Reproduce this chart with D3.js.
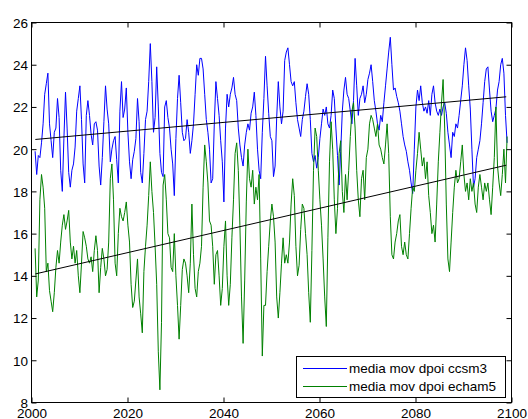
<!DOCTYPE html>
<html><head><meta charset="utf-8">
<script src="https://cdn.jsdelivr.net/npm/d3@7"></script>
<style>html,body{margin:0;padding:0;background:#fff;}svg{display:block;}</style>
</head><body>
<svg id="chart" width="528" height="419"></svg>
<script>
// time sampling of the moving averages (years), one value every 1/3 year
const startYear = 2000.75;
const stepYear = 1 / 3;

const ccsm3 = [
19.9,
18.8,19.7,19.6, 20.3,21.2,22.6, 23.1,23.6,21.2, 20.4,19.6,20.8, 21.0,22.4,21.5,
19.0,18.0,20.5, 22.7,21.0,18.9, 18.2,19.0,19.3, 20.1,21.8,22.4, 23.0,21.4,19.3,
18.4,21.6,22.3, 21.6,20.7,20.2, 21.2,21.3,20.9, 19.2,18.3,19.6, 21.3,23.0,21.9,
21.2,19.4,20.0, 20.4,20.6,19.5, 18.4,21.8,23.2, 21.5,21.9,22.9, 20.8,19.4,18.6,
19.5,19.9,20.5, 22.4,21.3,18.9, 18.4,19.8,21.4, 21.8,23.2,25.0, 23.2,20.8,21.5,
23.9,22.0,19.8, 18.9,18.7,22.0, 22.3,21.5,21.0, 20.0,19.3,17.8, 20.5,22.4,23.5,
22.2,20.8,20.4, 20.5,21.4,20.8, 19.8,20.4,21.2, 22.6,24.0,23.5, 24.3,24.3,23.8,
22.6,21.4,20.8, 20.0,18.4,18.6, 21.2,23.2,22.4, 21.6,20.4,19.4, 17.5,21.0,22.6,
22.0,22.6,22.9, 23.4,22.6,22.3, 21.0,20.2,19.6, 19.2,20.2,20.8, 21.2,20.9,21.7,
22.0,22.7,21.6, 20.0,19.0,18.6, 20.8,22.4,24.4, 23.0,21.7,20.6, 20.4,18.7,19.2,
21.5,23.2,22.0, 21.2,21.8,24.2, 24.6,24.8,24.0, 23.2,23.0,23.2, 22.2,21.4,21.0,
20.6,21.4,21.8, 22.5,23.1,22.6, 21.4,19.8,19.4, 19.7,19.1,19.6, 20.5,21.2,21.9,
21.6,22.0,21.2, 21.0,21.6,22.8, 22.4,21.0,19.7, 18.3,19.9,21.8, 22.8,23.4,22.6,
22.4,21.8,21.2, 22.3,24.3,23.0, 21.6,22.4,22.6, 23.0,22.2,22.6, 23.3,23.6,24.0,
23.2,22.3,21.8, 21.2,20.9,21.6, 21.3,22.2,23.0, 23.8,24.6,25.3, 24.0,22.8,22.9,
22.5,22.2,21.8, 21.2,20.6,20.2, 19.9,19.4,19.0, 18.4,17.9,20.0, 22.0,22.8,22.3,
23.0,22.2,21.8, 22.0,21.7,22.3, 21.6,22.6,23.0, 22.2,21.8,21.6, 21.9,21.6,22.0,
22.2,21.7,20.8, 20.2,19.6,20.8, 20.6,21.2,21.0, 21.6,22.3,23.0, 24.0,24.8,24.2,
23.0,21.9,20.0, 18.2,18.6,19.6, 20.0,20.4,21.2, 22.2,23.2,23.8, 23.9,22.8,21.8,
21.3,21.6,21.9, 22.8,23.2,24.0, 24.3,23.6,21.6,
20.3
];

const echam5 = [
15.3,
13.0,13.8,17.6, 18.8,18.2,17.2, 14.2,14.6,13.3, 12.8,12.3,13.2, 14.4,15.2,14.6,
15.6,16.4,16.9, 16.2,16.6,17.1, 15.6,14.8,15.4, 14.6,15.2,14.0, 13.2,14.6,16.1,
15.8,15.4,14.8, 14.6,14.9,14.2, 15.2,15.9,15.2, 13.2,14.4,15.3, 14.8,14.0,14.3,
15.6,18.6,19.3, 17.6,14.6,14.0, 16.0,17.2,16.8, 16.6,17.0,17.5, 16.4,15.6,13.6,
12.5,12.8,13.8, 14.8,13.0,12.2, 11.3,14.2,15.4, 16.4,17.8,19.4, 18.0,17.0,15.4,
13.6,10.4,8.6, 11.8,18.3,18.8, 17.6,16.0,15.8, 14.4,14.2,16.0, 14.0,12.6,11.0,
12.6,14.3,14.8, 14.6,14.0,13.2, 14.6,17.4,15.0, 13.4,13.0,14.2, 14.6,15.4,18.2,
20.2,19.4,18.4, 16.6,16.4,15.4, 13.6,15.0,15.2, 14.0,12.6,13.4, 15.4,16.6,14.0,
12.6,13.6,15.8, 17.6,19.8,20.3, 19.0,16.4,13.0, 10.8,13.8,17.5, 20.0,18.6,18.2,
19.0,17.4,18.2, 17.6,18.8,14.8, 10.2,12.6,12.6, 14.2,15.4,16.6, 17.4,16.8,15.6,
13.0,12.0,13.2, 14.6,15.8,14.6, 15.0,14.6,15.6, 17.4,18.6,17.8, 15.4,14.0,14.5,
16.2,17.4,17.2, 16.0,15.0,13.2, 11.8,15.2,19.0, 21.0,20.6,19.0, 17.6,16.4,14.8,
13.0,11.6,15.8, 19.4,21.3,20.0, 17.6,16.0,17.2, 19.8,20.4,18.0, 17.0,18.8,17.6,
19.0,20.6,21.8, 22.2,21.0,19.0, 17.6,16.8,18.6, 19.0,17.6,19.6, 20.0,21.2,21.6,
21.4,21.0,20.6, 21.2,20.2,20.0, 19.6,19.3,20.2, 21.2,19.8,16.8, 15.0,14.8,15.6,
16.0,16.6,16.9, 15.4,15.0,15.6, 15.0,14.8,16.0, 17.2,18.2,18.0, 19.0,19.8,20.8,
20.0,19.2,19.6, 18.6,19.4,17.8, 17.0,16.0,16.4, 15.6,17.4,19.4, 20.8,22.2,23.3,
21.0,17.4,14.8, 14.2,15.6,17.0, 18.2,19.0,18.4, 18.6,19.4,20.2, 18.8,18.0,18.4,
17.6,18.6,18.0, 18.4,17.4,17.0, 18.2,18.8,18.2, 17.6,18.4,18.0, 18.4,17.6,16.9,
18.2,19.6,22.0, 19.2,18.4,17.8, 18.8,20.0,18.4,
20.6
];

// linear trend lines (endpoints)
const trendCcsm3 = [[2000.8, 20.46], [2098.9, 22.48]];
const trendEcham5 = [[2000.8, 14.09], [2098.9, 19.24]];

const xTicks = [2000, 2020, 2040, 2060, 2080, 2100];
const yTicks = [8, 10, 12, 14, 16, 18, 20, 22, 24, 26];
const legendLabels = ["media mov dpoi ccsm3", "media mov dpoi echam5"];
const seriesColors = ["#0000ff", "#008000"];

const svg = d3.select("#chart");
const L = 31.5, R = 511.5, T = 22.5, B = 402.5;
const xScale = d3.scaleLinear().domain([2000, 2100]).range([L, R]);
const yScale = d3.scaleLinear().domain([8, 26]).range([B, T]);
const fontFam = "'Liberation Sans', Arial, Helvetica, sans-serif";

svg.append("defs").append("clipPath").attr("id", "clip")
  .append("rect").attr("x", L).attr("y", T).attr("width", R - L).attr("height", B - T);

const lineGen = d3.line().x(d => xScale(d[0])).y(d => yScale(d[1]));
const toPts = arr => arr.map((v, i) => [startYear + i * stepYear, v]);

const plot = svg.append("g").attr("clip-path", "url(#clip)");
[ccsm3, echam5].forEach((s, k) => {
  plot.append("path").attr("d", lineGen(toPts(s)))
    .attr("fill", "none").attr("stroke", seriesColors[k]).attr("stroke-width", 1);
});
[trendCcsm3, trendEcham5].forEach(t => {
  plot.append("path").attr("d", lineGen(t))
    .attr("fill", "none").attr("stroke", "#000").attr("stroke-width", 1);
});

// axes (MATLAB style: boxed, ticks inward on all four sides)
const tl = 5;
const axB = d3.axisBottom(xScale).tickValues(xTicks).tickSizeInner(-tl).tickSizeOuter(0).tickPadding(8).tickFormat(d3.format("d"));
const axT = d3.axisTop(xScale).tickValues(xTicks).tickSizeInner(-tl).tickSizeOuter(0).tickFormat("");
const axL = d3.axisLeft(yScale).tickValues(yTicks).tickSizeInner(-tl).tickSizeOuter(0).tickPadding(6).tickFormat(d3.format("d"));
const axR = d3.axisRight(yScale).tickValues(yTicks).tickSizeInner(-tl).tickSizeOuter(0).tickFormat("");

const gb = svg.append("g").attr("transform", `translate(0,${B})`).call(axB);
const gt = svg.append("g").attr("transform", `translate(0,${T})`).call(axT);
const gl = svg.append("g").attr("transform", `translate(${L},0)`).call(axL);
const gr = svg.append("g").attr("transform", `translate(${R},0)`).call(axR);
[gb, gt, gl, gr].forEach(g => {
  g.select(".domain").remove();
  g.selectAll("line").attr("stroke", "#000");
  g.selectAll("text").attr("fill", "#000").style("font-family", fontFam).style("font-size", "13.5px");
});
gb.selectAll("text").attr("dy", null).attr("y", 15.5);
gl.selectAll("text").attr("dy", "0.36em").attr("x", -3.5);

svg.append("rect").attr("x", L).attr("y", T).attr("width", R - L).attr("height", B - T)
  .attr("fill", "none").attr("stroke", "#000").attr("stroke-width", 1);

// legend
const lg = svg.append("g");
lg.append("rect").attr("x", 296.5).attr("y", 356.5).attr("width", 209).attr("height", 41)
  .attr("fill", "#fff").attr("stroke", "#000").attr("stroke-width", 1);
legendLabels.forEach((lab, k) => {
  const ly = 368.5 + k * 18;
  lg.append("line").attr("x1", 303).attr("x2", 347).attr("y1", ly).attr("y2", ly)
    .attr("stroke", seriesColors[k]).attr("stroke-width", 1);
  lg.append("text").attr("x", 349).attr("y", ly + 4.5).text(lab)
    .style("font-family", fontFam).style("font-size", "13.5px").attr("fill", "#000");
});
</script>
</body></html>
